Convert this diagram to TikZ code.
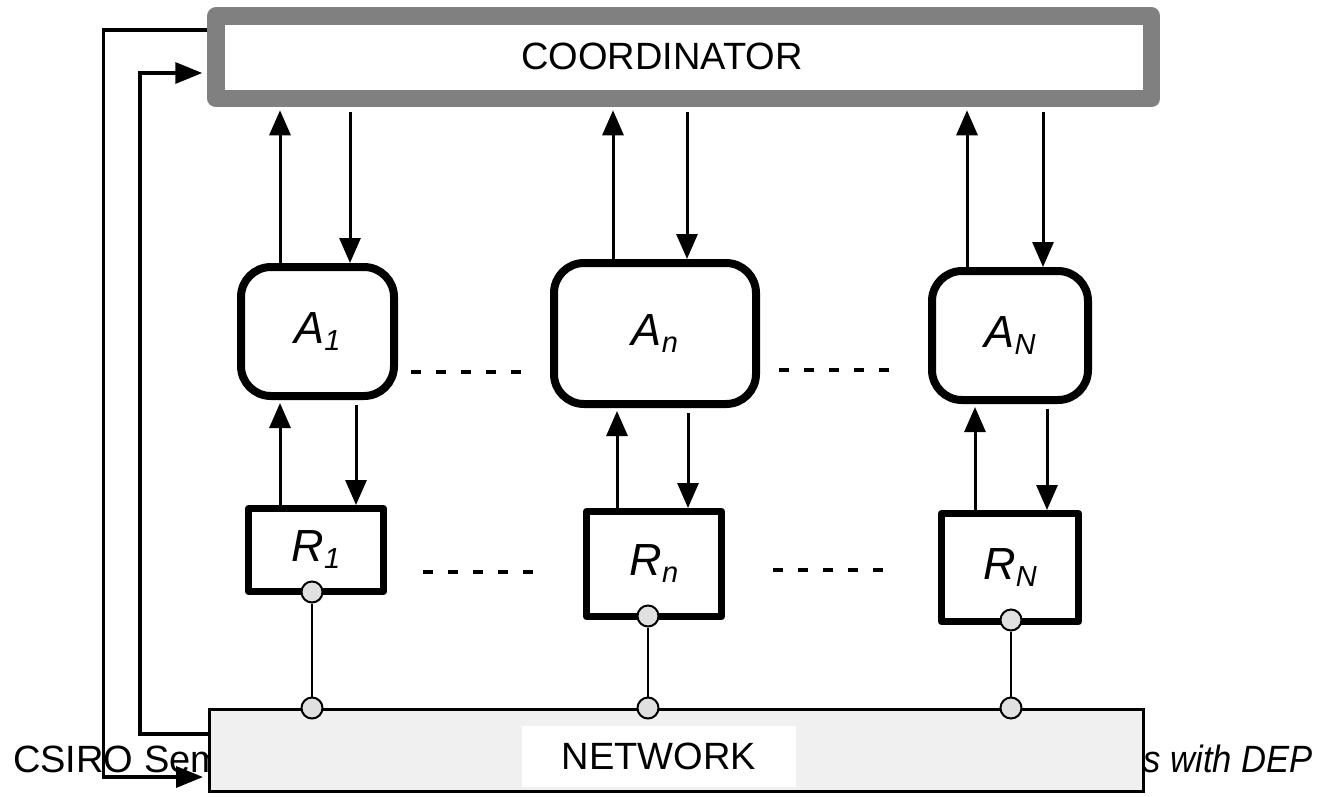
\documentclass[tikz,border=0pt]{standalone}
\usepackage{fontspec}
\setmainfont{Liberation Sans}
\usepackage{xcolor}
\usepackage{tikz}
\usetikzlibrary{arrows.meta}

\definecolor{framegray}{HTML}{808080}
\definecolor{netfill}{HTML}{F0F0F0}
\definecolor{portfill}{HTML}{E0E0E0}

% italic name with a lowered index
\newcommand{\unitname}[2]{{\fontsize{45}{45}\selectfont\itshape #1\raisebox{-7pt}{\fontsize{29}{29}\selectfont #2}}}

\begin{document}
\begin{tikzpicture}[x=1pt,y=-1pt,
    agentbox/.style={draw, line width=8pt, rounded corners=30pt, fill=white, inner sep=0pt},
    resbox/.style={draw, line width=7pt, line join=round, fill=white, inner sep=0pt},
    arr/.style={line width=3pt, -{Triangle[length=25pt,width=21pt]}},
    wire/.style={line width=3.5pt, -{Triangle[length=27pt,width=21pt]}, shorten >=5pt},
    dots/.style={line width=4.5pt, dash pattern=on 10pt off 15pt},
    port/.style={circle, draw, line width=2pt, fill=portfill, minimum size=21pt, inner sep=0pt},
    link/.style={line width=2pt},
    big/.style={font=\fontsize{38}{38}\selectfont}]
    \useasboundingbox (0,0) rectangle (1327,796);

    % footer line, partly hidden by the network box
    \node[big, anchor=base west, inner sep=0pt] (foot1) at (13,772) {CSIRO Sem};
    \node[big, anchor=base east, inner sep=0pt] (foot2) at (1313,772) {\scalebox{0.91}[1]{\itshape s with DEP}};

    \node[draw=framegray, line width=17.5pt, line join=round, fill=white,
          minimum width=935.5pt, minimum height=82.5pt, inner sep=0pt] (coord) at (683.75,57.25) {};
    \node[big] (coordlbl) at (662,56) {COORDINATOR};

    \node[draw, line width=3pt, fill=netfill, minimum width=934pt, minimum height=82pt] (net) at (676.5,750.5) {};
    \node[big, fill=white, minimum width=274pt, minimum height=61pt] (netlbl) at (659,756.5) {NETWORK};

    \node[agentbox, minimum width=153pt, minimum height=129pt] (A1) at (317.5,331.5) {\unitname{A}{1}};
    \node[agentbox, minimum width=202pt, minimum height=141pt] (An) at (655,333.5) {\unitname{A}{n}};
    \node[agentbox, minimum width=156pt, minimum height=129pt] (AN) at (1010,335.5) {\unitname{A}{N}};

    \node[resbox, minimum width=135pt, minimum height=83pt]  (R1) at (316,550) {\unitname{R}{1}};
    \node[resbox, minimum width=135pt, minimum height=105pt] (Rn) at (654,564) {\unitname{R}{n}};
    \node[resbox, minimum width=137pt, minimum height=108pt] (RN) at (1010,567.5) {\unitname{R}{N}};

    % coordinator <-> agents
    \foreach \a/\u/\d in {A1/280/350, An/613/687, AN/967/1043} {
        \draw[arr, shorten >=3pt] (\a.north -| \u,0) -- (coord.south -| \u,0);
        \draw[arr, shorten <=5pt] (coord.south -| \d,0) -- (\a.north -| \d,0);
    }

    % agents <-> resources
    \foreach \a/\r/\u/\d in {A1/R1/280/356, An/Rn/617/688, AN/RN/975/1047} {
        \draw[arr, shorten >=3pt] (\r.north -| \u,0) -- (\a.south -| \u,0);
        \draw[arr, shorten <=5pt] (\a.south -| \d,0) -- (\r.north -| \d,0);
    }

    \draw[dots, shorten <=13pt, shorten >=29pt] (A1.east |- 0,372) -- (An.west |- 0,372);
    \draw[dots, shorten <=19pt, shorten >=38pt] (An.east |- 0,370) -- (AN.west |- 0,370);
    \draw[dots, shorten <=36pt, shorten >=50pt] (R1.east |- 0,572) -- (Rn.west |- 0,572);
    \draw[dots, shorten <=48pt, shorten >=54pt] (Rn.east |- 0,570) -- (RN.west |- 0,570);

    % network attachments
    \foreach \n/\x/\y in {1/312/592, n/648/616, N/1011/620} {
        \node[port] (p\n) at (\x,\y) {};
        \node[port] (q\n) at (\x,708) {};
        \draw[link] (p\n) -- (q\n);
    }

    % feedback loops between network and coordinator
    \draw[wire] (coord.west |- 0,30) -- ++(-104,0) |- (net.west |- 0,777);
    \draw[wire] (net.west |- 0,734) -- ++(-68,0) |- (coord.west |- 0,73);
\end{tikzpicture}
\end{document}
